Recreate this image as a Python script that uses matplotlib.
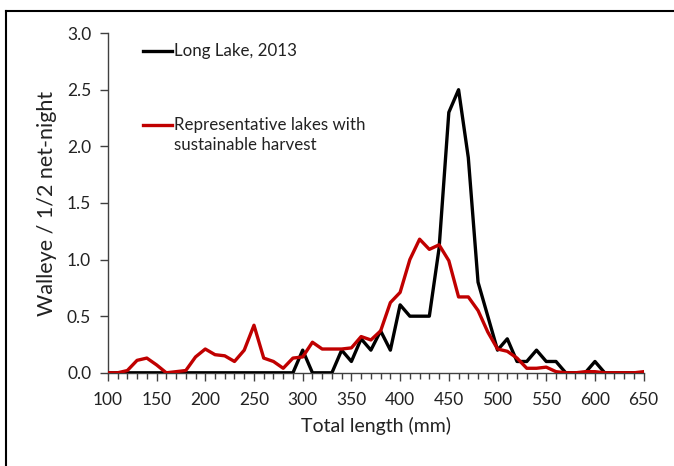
import numpy as np
import matplotlib.pyplot as plt
from matplotlib.lines import Line2D

plt.rcParams['font.family'] = ['Lato', 'DejaVu Sans']

length = np.arange(100, 660, 10)

long_lake = [0, 0, 0, 0, 0, 0, 0, 0, 0, 0,
             0, 0, 0, 0, 0, 0, 0, 0, 0, 0,
             0.2, 0, 0, 0, 0.2, 0.1, 0.3, 0.2, 0.37, 0.2,
             0.6, 0.5, 0.5, 0.5, 1.1, 2.3, 2.5, 1.9, 0.8, 0.5,
             0.2, 0.3, 0.1, 0.1, 0.2, 0.1, 0.1, 0, 0, 0,
             0.1, 0, 0, 0, 0, 0]

representative = [0, 0, 0.02, 0.11, 0.13, 0.07, 0, 0.01, 0.02, 0.14,
                  0.21, 0.16, 0.15, 0.1, 0.2, 0.42, 0.13, 0.1, 0.04, 0.13,
                  0.14, 0.27, 0.21, 0.21, 0.21, 0.22, 0.32, 0.29, 0.37, 0.62,
                  0.71, 1.0, 1.18, 1.09, 1.13, 0.99, 0.67, 0.67, 0.55, 0.36,
                  0.21, 0.19, 0.13, 0.04, 0.04, 0.05, 0.01, 0, 0, 0.01,
                  0.01, 0, 0, 0, 0, 0.01]

fig = plt.figure(figsize=(6.74, 4.66), dpi=100)
ax = fig.add_axes([0.160, 0.200, 0.795, 0.729])

ax.plot(length, long_lake, color='black', lw=2.4, zorder=3)
ax.plot(length, representative, color='#c00000', lw=2.4, zorder=4)

ax.set_xlim(100, 650)
ax.set_ylim(0, 3.0)
ax.set_xticks(np.arange(100, 651, 50))
ax.set_xticks(np.arange(100, 651, 10), minor=True)
ax.set_yticks(np.arange(0, 3.01, 0.5))
ax.set_yticklabels([f"{v:.1f}" for v in np.arange(0, 3.01, 0.5)])

for s in ['top', 'right']:
    ax.spines[s].set_visible(False)
for s in ['left', 'bottom']:
    ax.spines[s].set_color('#404040')
    ax.spines[s].set_linewidth(1.0)

ax.tick_params(axis='both', which='major', direction='out', length=6, width=1,
               color='#404040', labelsize=12.5, labelcolor='#222222')
ax.tick_params(axis='y', which='major', pad=6)
ax.tick_params(axis='x', which='minor', direction='out', length=4, width=1, color='#404040')
ax.tick_params(axis='x', which='major', pad=8)

ax.set_xlabel("Total length (mm)", fontsize=14, color='#222222', labelpad=6)
ax.set_ylabel("Walleye / 1/2 net-night", fontsize=15.5, color='#222222', labelpad=7)

# legend drawn by hand, like the original
lx0, lx1 = (143 - 108) / 536 * 550 + 100, (172 - 108) / 536 * 550 + 100
tx = (174 - 108) / 536 * 550 + 100
ax.plot([lx0, lx1], [2.84, 2.84], color='black', lw=2.4)
ax.text(tx, 2.84, "Long Lake, 2013", fontsize=12.2, va='center', ha='left', color='#222222')
ax.plot([lx0, lx1], [2.19, 2.19], color='#c00000', lw=2.4)
ax.text(tx, 2.19, "Representative lakes with", fontsize=12.2, va='center', ha='left', color='#222222')
ax.text(tx, 2.01, "sustainable harvest", fontsize=12.2, va='center', ha='left', color='#222222')

# frame around the picture (only top and left visible)
fig.add_artist(Line2D([6 / 674, 6 / 674], [0, 1 - 11 / 466], color='black', lw=1.5, transform=fig.transFigure))
fig.add_artist(Line2D([6 / 674, 1], [1 - 11 / 466, 1 - 11 / 466], color='black', lw=1.5, transform=fig.transFigure))

fig.savefig("out.png", dpi=100)
